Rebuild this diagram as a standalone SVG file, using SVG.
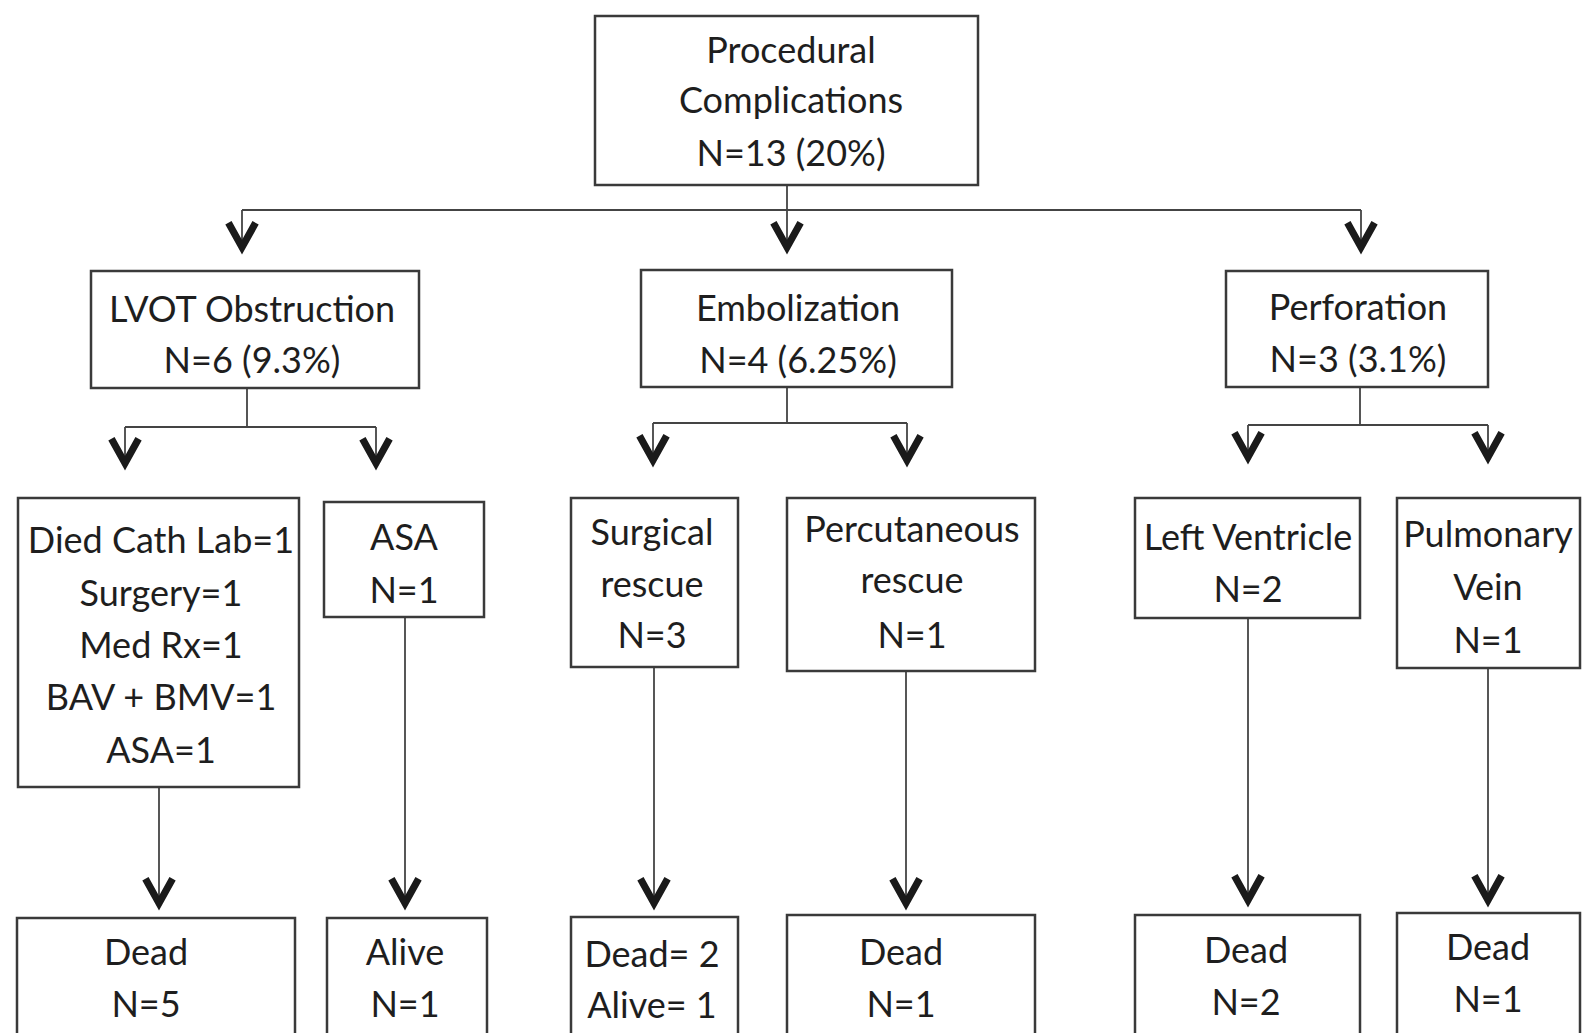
<svg xmlns="http://www.w3.org/2000/svg" width="1583" height="1033" viewBox="0 0 1583 1033">
<style>
.box{fill:#fff;stroke:#3a3a3a;stroke-width:2.5}
.t{font-family:Lato,"Open Sans","Liberation Sans",sans-serif;font-size:36px;fill:#1e1e1e;text-anchor:middle}
.c{fill:none;stroke:#444;stroke-width:1.8}
</style>
<defs>
<marker id="ah" markerUnits="userSpaceOnUse" markerWidth="40" markerHeight="40" refX="0" refY="0" viewBox="-22 -14 26 28" orient="auto" overflow="visible">
<path d="M-19,-9.5 L-2,0 L-19,9.5" fill="none" stroke="#1a1a1a" stroke-width="5" stroke-linejoin="miter" stroke-miterlimit="6"/>
</marker>
</defs>
<rect width="1583" height="1033" fill="#fff"/>
<g id="connectors">
<path class="c" d="M787,185 V210 M242,210 H1361"/>
<path class="c" d="M242,210 V250" marker-end="url(#ah)"/>
<path class="c" d="M787,210 V250" marker-end="url(#ah)"/>
<path class="c" d="M1361,210 V250" marker-end="url(#ah)"/>
<path class="c" d="M247,388 V427 M125,427 H376"/>
<path class="c" d="M125,427 V466" marker-end="url(#ah)"/>
<path class="c" d="M376,427 V466" marker-end="url(#ah)"/>
<path class="c" d="M787,387 V423 M653,423 H907"/>
<path class="c" d="M653,423 V463" marker-end="url(#ah)"/>
<path class="c" d="M907,423 V463" marker-end="url(#ah)"/>
<path class="c" d="M1360,387 V425 M1248,425 H1488"/>
<path class="c" d="M1248,425 V460" marker-end="url(#ah)"/>
<path class="c" d="M1488,425 V460" marker-end="url(#ah)"/>
<path class="c" d="M159,787 V906" marker-end="url(#ah)"/>
<path class="c" d="M405,617 V906" marker-end="url(#ah)"/>
<path class="c" d="M654,667 V906" marker-end="url(#ah)"/>
<path class="c" d="M906,671 V906" marker-end="url(#ah)"/>
<path class="c" d="M1248,618 V903" marker-end="url(#ah)"/>
<path class="c" d="M1488,668 V903" marker-end="url(#ah)"/>
</g>
<g id="n-top">
<rect class="box" x="595" y="16" width="383" height="169"/>
<text class="t" x="791" y="63">Procedural</text>
<text class="t" x="791" y="113">Complications</text>
<text class="t" x="791" y="166">N=13 (20%)</text>
</g>
<g id="n-lvot">
<rect class="box" x="91" y="271" width="328" height="117"/>
<text class="t" x="252" y="322">LVOT Obstruction</text>
<text class="t" x="252" y="373">N=6 (9.3%)</text>
</g>
<g id="n-emb">
<rect class="box" x="641" y="270" width="311" height="117"/>
<text class="t" x="798" y="321">Embolization</text>
<text class="t" x="798" y="373">N=4 (6.25%)</text>
</g>
<g id="n-perf">
<rect class="box" x="1226" y="271" width="262" height="116"/>
<text class="t" x="1358" y="320">Perforation</text>
<text class="t" x="1358" y="372">N=3 (3.1%)</text>
</g>
<g id="n-died">
<rect class="box" x="18" y="498" width="281" height="289"/>
<text class="t" x="161" y="553">Died Cath Lab=1</text>
<text class="t" x="161" y="606">Surgery=1</text>
<text class="t" x="161" y="658">Med Rx=1</text>
<text class="t" x="161" y="710">BAV + BMV=1</text>
<text class="t" x="161" y="763">ASA=1</text>
</g>
<g id="n-asa">
<rect class="box" x="324" y="502" width="160" height="115"/>
<text class="t" x="404" y="550">ASA</text>
<text class="t" x="404" y="603">N=1</text>
</g>
<g id="n-surg">
<rect class="box" x="571" y="498" width="167" height="169"/>
<text class="t" x="652" y="545">Surgical</text>
<text class="t" x="652" y="597">rescue</text>
<text class="t" x="652" y="648">N=3</text>
</g>
<g id="n-perc">
<rect class="box" x="787" y="498" width="248" height="173"/>
<text class="t" x="912" y="542">Percutaneous</text>
<text class="t" x="912" y="593">rescue</text>
<text class="t" x="912" y="648">N=1</text>
</g>
<g id="n-lv">
<rect class="box" x="1135" y="498" width="225" height="120"/>
<text class="t" x="1248" y="550">Left Ventricle</text>
<text class="t" x="1248" y="602">N=2</text>
</g>
<g id="n-pv">
<rect class="box" x="1397" y="498" width="183" height="170"/>
<text class="t" x="1488" y="547">Pulmonary</text>
<text class="t" x="1488" y="600">Vein</text>
<text class="t" x="1488" y="653">N=1</text>
</g>
<g id="n-dead5">
<rect class="box" x="17" y="918" width="278" height="130"/>
<text class="t" x="146" y="965">Dead</text>
<text class="t" x="146" y="1017">N=5</text>
</g>
<g id="n-alive1">
<rect class="box" x="327" y="918" width="160" height="130"/>
<text class="t" x="405" y="965">Alive</text>
<text class="t" x="405" y="1017">N=1</text>
</g>
<g id="n-deadalive">
<rect class="box" x="571" y="917" width="167" height="130"/>
<text class="t" x="652" y="967">Dead= 2</text>
<text class="t" x="652" y="1018">Alive= 1</text>
</g>
<g id="n-dead1a">
<rect class="box" x="787" y="915" width="248" height="130"/>
<text class="t" x="901" y="965">Dead</text>
<text class="t" x="901" y="1017">N=1</text>
</g>
<g id="n-dead2">
<rect class="box" x="1135" y="915" width="225" height="130"/>
<text class="t" x="1246" y="963">Dead</text>
<text class="t" x="1246" y="1015">N=2</text>
</g>
<g id="n-dead1b">
<rect class="box" x="1397" y="913" width="183" height="130"/>
<text class="t" x="1488" y="960">Dead</text>
<text class="t" x="1488" y="1012">N=1</text>
</g>
</svg>
